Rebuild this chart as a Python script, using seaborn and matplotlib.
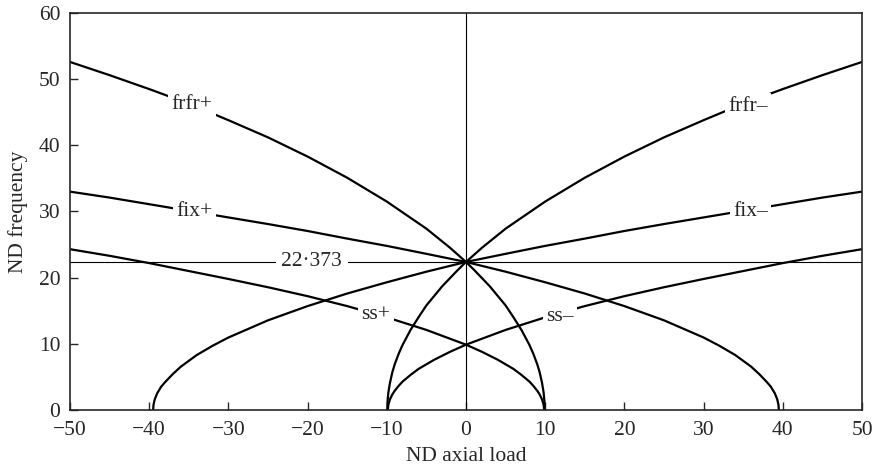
import pandas as pd
import seaborn as sns
import matplotlib.pyplot as plt

# Curves (ND axial load -> ND frequency)
frfr_pos_load = [-50, -45, -40, -35, -30, -25, -20, -15, -10, -5, -2, 0, 1, 3, 5, 6, 7, 8, 8.5, 9, 9.3, 9.6, 9.8, 9.9, 9.94]
frfr_pos_freq = [52.6, 50.6, 48.5, 46.3, 43.8, 41.2, 38.3, 35.1, 31.5, 27.4, 24.5, 22.37, 21.2, 18.7, 15.8, 14.0, 12.1, 9.85, 8.5, 6.9, 5.7, 4.1, 2.65, 1.4, 0.0]

frfr_neg_load = [50, 45, 40, 35, 30, 25, 20, 15, 10, 5, 2, 0, -1, -3, -5, -6, -7, -8, -8.5, -9, -9.3, -9.6, -9.8, -9.9, -9.94]
frfr_neg_freq = [52.6, 50.6, 48.5, 46.3, 43.8, 41.2, 38.3, 35.1, 31.5, 27.4, 24.5, 22.37, 21.2, 18.7, 15.8, 14.0, 12.1, 9.85, 8.5, 6.9, 5.7, 4.1, 2.65, 1.4, 0.0]

fix_pos_load = [-50, -45, -40, -35, -30, -25, -20, -15, -10, -5, 0, 5, 10, 15, 20, 25, 30, 32, 34, 36, 37, 38, 38.5, 39, 39.3, 39.45, 39.5]
fix_pos_freq = [33.0, 32.1, 31.1, 30.1, 29.1, 28.1, 27.05, 25.9, 24.8, 23.6, 22.37, 20.9, 19.3, 17.6, 15.7, 13.55, 10.95, 9.7, 8.3, 6.55, 5.45, 4.2, 3.5, 2.5, 1.6, 0.8, 0.0]

fix_neg_load = [50, 45, 40, 35, 30, 25, 20, 15, 10, 5, 0, -5, -10, -15, -20, -25, -30, -32, -34, -36, -37, -38, -38.5, -39, -39.3, -39.45, -39.5]
fix_neg_freq = [33.0, 32.1, 31.1, 30.1, 29.1, 28.1, 27.05, 25.9, 24.8, 23.6, 22.37, 20.9, 19.3, 17.6, 15.7, 13.55, 10.95, 9.7, 8.3, 6.55, 5.45, 4.2, 3.5, 2.5, 1.6, 0.8, 0.0]

ss_pos_load = [-50, -45, -40, -35, -30, -25, -20, -15, -10, -5, 0, 2, 4, 6, 7, 8, 8.5, 9, 9.3, 9.6, 9.8, 9.87]
ss_pos_freq = [24.3, 23.3, 22.2, 21.0, 19.8, 18.55, 17.2, 15.7, 14.0, 12.1, 9.87, 8.8, 7.6, 6.2, 5.3, 4.3, 3.65, 2.9, 2.35, 1.6, 0.8, 0.0]

ss_neg_load = [50, 45, 40, 35, 30, 25, 20, 15, 10, 5, 0, -2, -4, -6, -7, -8, -8.5, -9, -9.3, -9.6, -9.8, -9.87]
ss_neg_freq = [24.3, 23.3, 22.2, 21.0, 19.8, 18.55, 17.2, 15.7, 14.0, 12.1, 9.87, 8.8, 7.6, 6.2, 5.3, 4.3, 3.65, 2.9, 2.35, 1.6, 0.8, 0.0]

ref_freq = 22.373

curves = {
    'frfr+': (frfr_pos_load, frfr_pos_freq),
    'frfr–': (frfr_neg_load, frfr_neg_freq),
    'fix+': (fix_pos_load, fix_pos_freq),
    'fix–': (fix_neg_load, fix_neg_freq),
    'ss+': (ss_pos_load, ss_pos_freq),
    'ss–': (ss_neg_load, ss_neg_freq),
}

FS = 15.5

sns.set_style('ticks')
plt.rcParams['font.family'] = ['Liberation Serif', 'DejaVu Serif']
plt.rcParams['font.size'] = FS
plt.rcParams['axes.unicode_minus'] = True

fig = plt.figure(figsize=(8.77, 4.72), dpi=100)
ax = fig.add_axes([0.0798, 0.1314, 0.9031, 0.8411])

for name, (load, freq) in curves.items():
    df = pd.DataFrame({'load': load, 'freq': freq})
    sns.lineplot(data=df, x='load', y='freq', color='black', linewidth=1.6,
                 sort=False, estimator=None, ax=ax)

# thin reference lines
ax.axhline(ref_freq, color='black', linewidth=0.8, zorder=1)
ax.axvline(0, color='black', linewidth=0.8, zorder=1)

# curve labels sitting in gaps of the lines
label_pos = {
    'frfr+': (-34.6, 46.1),
    'frfr–': (35.6, 45.9),
    'fix+': (-34.3, 30.0),
    'fix–': (35.9, 30.0),
    'ss+': (-11.4, 14.5),
    'ss–': (11.9, 14.2),
}
for name, (lx, ly) in label_pos.items():
    ax.text(lx, ly, name, ha='center', va='center', fontsize=FS, zorder=5,
            bbox=dict(facecolor='white', edgecolor='none', pad=2.5))
ax.text(-19.5, ref_freq, '22·373', ha='center', va='center', fontsize=FS, zorder=5,
        bbox=dict(facecolor='white', edgecolor='none', pad=4))

ax.set_xlim(-50, 50)
ax.set_ylim(0, 60)
ax.set_xticks(range(-50, 51, 10))
ax.set_yticks(range(0, 61, 10))
ax.tick_params(direction='in', length=6, width=1, labelsize=FS,
               top=False, right=False)
ax.tick_params(axis='x', pad=8)
ax.tick_params(axis='y', pad=7)
for side in ['top', 'right', 'bottom', 'left']:
    ax.spines[side].set_visible(True)
    ax.spines[side].set_linewidth(1.2)
ax.set_xlabel('ND axial load', fontsize=FS, labelpad=5)
ax.set_ylabel('ND frequency', fontsize=FS, labelpad=8)

fig.savefig('out.png', dpi=100)
